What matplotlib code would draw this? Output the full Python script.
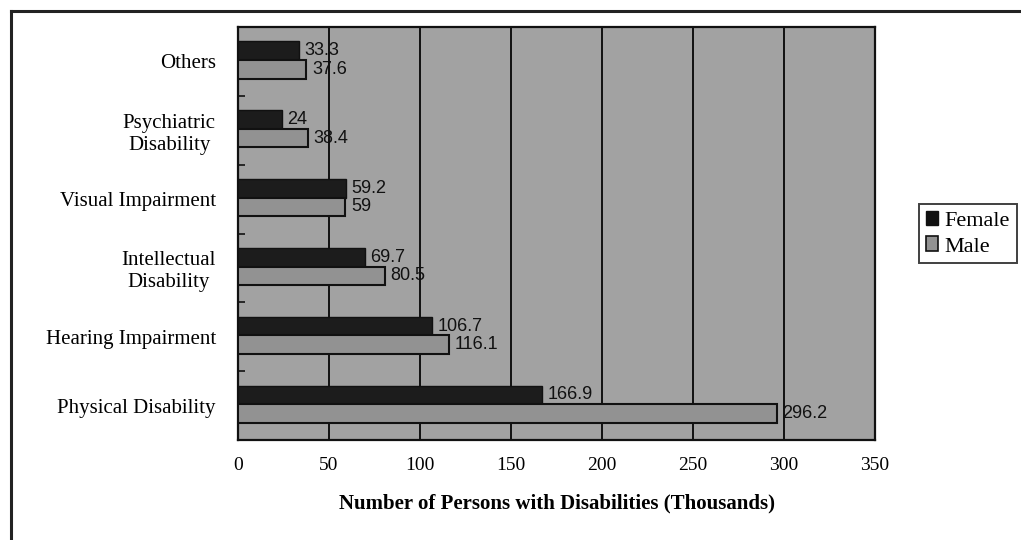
import matplotlib.pyplot as plt
import numpy as np
from matplotlib.lines import Line2D
from matplotlib.patches import Patch

categories = [
    "Physical Disability",
    "Hearing Impairment",
    "Intellectual\nDisability",
    "Visual Impairment",
    "Psychiatric\nDisability",
    "Others",
]
female = [166.9, 106.7, 69.7, 59.2, 24, 33.3]
male = [296.2, 116.1, 80.5, 59, 38.4, 37.6]
female_labels = ["166.9", "106.7", "69.7", "59.2", "24", "33.3"]
male_labels = ["296.2", "116.1", "80.5", "59", "38.4", "37.6"]
x_ticks = [0, 50, 100, 150, 200, 250, 300, 350]

SERIF = "Liberation Serif"
SANS = "Liberation Sans"

fig = plt.figure(figsize=(10.21, 5.4), dpi=100)
fig.patch.set_facecolor("white")
ax = fig.add_axes([238 / 1021, 1 - 440 / 540, (875 - 238) / 1021, (440 - 27) / 540])
ax.set_facecolor("#a2a2a2")

y = np.arange(len(categories))
h = 0.27
ax.barh(y + h / 2 + 0.02, female, height=h, color="#1c1c1c", edgecolor="#111111",
        linewidth=1.0, zorder=3)
ax.barh(y - h / 2 + 0.02, male, height=h, color="#929292", edgecolor="#111111",
        linewidth=1.5, zorder=3)

for yi, v, s in zip(y, female, female_labels):
    ax.text(v + 3, yi + h / 2 + 0.02, s, va="center", ha="left",
            fontsize=13, family=SANS, color="#111111", zorder=4)
for yi, v, s in zip(y, male, male_labels):
    ax.text(v + 3, yi - h / 2 + 0.02, s, va="center", ha="left",
            fontsize=13, family=SANS, color="#111111", zorder=4)

ax.set_xlim(0, 350)
ax.set_ylim(-0.5, len(categories) - 0.5)
ax.set_xticks(x_ticks)
ax.set_xticklabels([str(t) for t in x_ticks], family=SERIF, fontsize=14)
ax.set_yticks(y)
ax.set_yticklabels(categories, family=SERIF, fontsize=15, multialignment="center")
ax.set_yticks(np.arange(0.5, len(categories) - 1, 1.0), minor=True)
ax.tick_params(axis="y", which="major", length=0, pad=16)
ax.tick_params(axis="y", which="minor", direction="in", length=5, width=1.2, color="#111111")
ax.tick_params(axis="x", length=0, pad=12)

for t in x_ticks[1:-1]:
    ax.axvline(t, color="#111111", linewidth=1.4, zorder=2)

for spine in ax.spines.values():
    spine.set_linewidth(1.6)
    spine.set_color("#111111")

ax.set_xlabel("Number of Persons with Disabilities (Thousands)", family=SERIF,
              fontsize=15, fontweight="bold", labelpad=14)

handles = [
    Patch(facecolor="#111111", edgecolor="#111111", label="Female"),
    Patch(facecolor="#929292", edgecolor="#111111", linewidth=1.2, label="Male"),
]
leg = fig.legend(handles=handles, loc="upper left", bbox_to_anchor=(919 / 1021, 1 - 204 / 540),
                 prop={"family": SERIF, "size": 16}, frameon=True, fancybox=False,
                 handlelength=0.55, handleheight=0.65, handletextpad=0.3,
                 borderpad=0.3, labelspacing=0.25, borderaxespad=0)
leg.get_frame().set_edgecolor("#111111")
leg.get_frame().set_linewidth(1.4)

fig.add_artist(Line2D([11 / 1021, 1], [1 - 11 / 540, 1 - 11 / 540],
                      transform=fig.transFigure, color="#222222", linewidth=2.2))
fig.add_artist(Line2D([11 / 1021, 11 / 1021], [0, 1 - 11 / 540],
                      transform=fig.transFigure, color="#222222", linewidth=2.2))

fig.savefig("out.png", dpi=100)
